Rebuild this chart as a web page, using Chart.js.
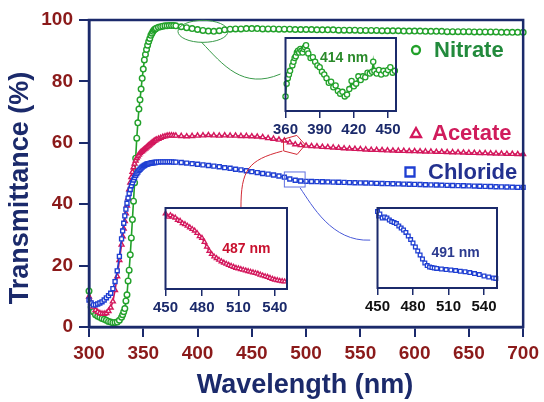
<!DOCTYPE html>
<html>
<head>
<meta charset="utf-8">
<script src="https://cdn.jsdelivr.net/npm/chart.js@4"></script>
<style>
body { margin: 0; background: #fff; }
#wrap { position: relative; width: 544px; height: 402px; }
canvas { position: absolute; }
</style>
</head>
<body>
<div id="wrap">
<canvas id="main" width="544" height="402" style="left:0;top:0"></canvas>
<canvas id="zoomNitrate" width="140" height="112" style="left:270px;top:30px"></canvas>
<canvas id="zoomAcetate" width="150" height="125" style="left:150px;top:200px"></canvas>
<canvas id="zoomChloride" width="150" height="122" style="left:362px;top:200px"></canvas>
</div>
<script>
// main spectra, transmittance (%) vs wavelength (nm)
const wavelengths = [300,302,304,306,308,310,312,314,316,318,320,322,324,326,328,330,
  331,332,333,334,335,336,337,338,339,340,341,342,343,344,345,346,347,348,349,350,351,352,353,354,355,356,357,358,359,360,361,362,
  364,366,368,370,372,374,376,378,380,
  385,390,395,400,405,410,415,420,425,430,435,440,445,450,455,460,465,470,475,480,485,490,495,500,505,510,515,520,525,530,535,540,545,550,
  555,560,565,570,575,580,585,590,595,600,605,610,615,620,625,630,635,640,645,650,655,660,665,670,675,680,685,690,695,700];

const nitrate = [11.7,6.5,5.0,4.0,3.5,3.2,2.8,2.5,2.2,1.8,1.6,1.4,1.5,1.6,2.2,3.2,
  4.0,5.0,6.0,8.5,10.5,15.0,18.5,23.5,29.0,35.0,41.0,47.0,55.0,61.5,66.5,71.0,74.0,77.5,81.0,84.0,87.0,88.8,90.4,91.8,93.0,94.0,95.0,95.7,96.3,96.8,97.1,97.3,
  97.6,97.8,98.0,98.1,98.1,98.2,98.2,98.2,98.1,
  97.8,97.5,97.2,96.9,96.6,96.4,96.3,96.5,96.8,97.0,97.1,97.1,97.2,97.2,97.2,97.1,97.1,97.1,97.0,97.0,97.0,96.9,96.9,96.9,96.9,96.8,96.8,96.8,96.8,96.7,96.7,96.7,96.7,96.6,
  96.6,96.6,96.6,96.5,96.5,96.5,96.5,96.4,96.4,96.4,96.4,96.3,96.3,96.3,96.3,96.2,96.2,96.2,96.2,96.2,96.1,96.1,96.1,96.1,96.1,96.0,96.0,96.0,96.0,96.0];

const acetate = [9.9,8.0,6.6,5.5,4.9,4.5,4.3,4.3,4.5,5.2,6.3,8.3,12.0,16.5,21.8,26.8,
  29.5,32.0,34.5,37.0,39.5,42.0,44.8,47.0,48.8,50.5,52.0,53.2,54.2,55.0,55.6,56.1,56.6,57.0,57.3,57.6,57.9,58.2,58.5,58.8,59.1,59.4,59.7,60.0,60.3,60.6,60.8,61.0,
  61.3,61.6,61.9,62.1,62.3,62.4,62.4,62.3,62.3,
  62.2,62.1,62.2,62.3,62.4,62.5,62.4,62.3,62.4,62.3,62.3,62.2,62.2,62.1,62.0,61.8,61.5,61.3,61.0,60.7,60.1,59.5,59.2,59.05,58.9,58.8,58.65,58.55,58.45,58.35,58.2,58.1,58.0,57.9,
  57.8,57.7,57.65,57.6,57.5,57.45,57.4,57.35,57.3,57.25,57.2,57.15,57.1,57.05,57.0,56.95,56.9,56.85,56.8,56.75,56.7,56.65,56.6,56.55,56.5,56.45,56.4,56.35,56.3,56.3];

const chloride = [8.8,7.8,7.2,7.2,7.5,7.8,8.2,8.8,9.5,10.2,11.0,12.5,14.8,18.3,23.0,28.7,
  31.3,33.8,36.2,38.4,40.3,42.0,43.5,44.8,46.0,47.0,47.9,48.7,49.4,50.0,50.5,51.0,51.4,51.8,52.1,52.4,52.6,52.8,53.0,53.1,53.2,53.3,53.4,53.5,53.5,53.6,53.6,53.7,
  53.7,53.8,53.8,53.8,53.8,53.8,53.8,53.7,53.7,
  53.6,53.4,53.2,53.0,52.8,52.6,52.4,52.2,51.9,51.7,51.4,51.2,50.9,50.6,50.3,50.0,49.8,49.5,49.2,48.8,48.2,47.8,47.55,47.45,47.4,47.35,47.3,47.25,47.2,47.15,47.1,47.05,47.0,46.95,
  46.9,46.85,46.8,46.75,46.7,46.65,46.6,46.55,46.5,46.45,46.4,46.35,46.3,46.25,46.2,46.15,46.1,46.05,46.0,45.95,45.9,45.85,45.8,45.75,45.7,45.65,45.6,45.55,45.5,45.5];

const seriesNames = ['Nitrate', 'Acetate', 'Chloride'];
const xTicks = [300,350,400,450,500,550,600,650,700];
const yTicks = [0,20,40,60,80,100];

// insets
const nitrateZoomX = [360,361,362,363,364,366,367,368,369,370,371,372,373,374,375,376,377,378,379,380,382,384,386,388,390,392,394,396,398,400,
  402,404,406,408,410,412,414,416,418,420,422,424,426,428,430,432,434,436,437,438,440,442,444,446,448,450,452,454,456];
const nitrateZoomY = [95.8,96.5,96.8,97.0,97.2,97.5,97.7,97.9,98.0,98.2,98.3,98.2,98.4,98.3,98.2,98.4,98.5,98.6,98.3,98.15,97.9,97.95,97.7,97.5,97.4,97.15,97.0,96.8,96.55,96.6,
  96.3,96.4,96.1,95.95,96.05,95.8,95.9,96.2,96.65,96.35,96.5,96.9,96.7,96.9,96.85,97.1,97.05,97.15,97.7,97.2,97.05,97.25,97.0,97.2,97.05,97.25,97.4,97.1,97.2];
const nitrateZoomTicks = [360,390,420,450];

const acetateZoomX = [450,452,454,456,458,460,462,464,466,468,470,472,474,476,478,480,482,484,486,488,490,492,494,496,498,500,
  502,504,506,508,510,512,514,516,518,520,522,524,526,528,530,532,534,536,538,540,542,544,546,548];
const acetateZoomY = [62.15,61.95,62.05,61.95,61.9,61.75,61.7,61.55,61.5,61.4,61.3,61.2,61.1,60.95,60.75,60.65,60.4,60.1,59.85,59.65,59.5,59.4,59.3,59.2,59.12,59.05,
  58.98,58.92,58.86,58.8,58.77,58.72,58.68,58.64,58.6,58.56,58.52,58.48,58.44,58.38,58.33,58.28,58.24,58.18,58.12,58.07,58.04,58.0,57.98,57.96];

const chlorideZoomX = [450,451,452,454,456,458,460,462,464,466,468,470,472,474,476,478,480,482,484,486,488,490,492,494,496,498,500,
  504,508,512,516,520,524,528,532,536,540,544,548,550];
const chlorideZoomY = [50.32,50.1,50.2,50.0,50.05,50.0,49.9,49.82,49.78,49.72,49.6,49.5,49.4,49.28,49.1,48.92,48.75,48.55,48.35,48.15,47.95,47.75,47.62,47.55,47.52,47.5,47.48,
  47.45,47.42,47.4,47.37,47.34,47.31,47.27,47.22,47.17,47.1,47.05,47.0,46.98];
const zoomTicks = [450,480,510,540];

const navy = '#1b2a6b';
const tickRed = '#8b1a1a';
const green = '#22a12a';
const crimson = '#d3175c';
const blue = '#1f3fd2';
const fontFam = 'Arial, "Liberation Sans", sans-serif';
Chart.defaults.font.family = fontFam;

const pts = (xs, ys) => xs.map((x, i) => ({x: x, y: ys[i]}));

function series(label, ys, color, style) {
  return {
    label: label,
    data: pts(wavelengths, ys),
    borderColor: color,
    borderWidth: 1.6,
    pointStyle: style,
    pointRadius: 2.8,
    pointBorderWidth: 1.4,
    pointBorderColor: color,
    pointBackgroundColor: '#fff',
    clip: false
  };
}

const mainDecor = {
  id: 'mainDecor',
  afterDraw(chart) {
    const ctx = chart.ctx;
    const a = chart.chartArea;
    const xs = chart.scales.x, ys = chart.scales.y;
    const P = (nm, t) => [xs.getPixelForValue(nm), ys.getPixelForValue(t)];
    ctx.save();
    // frame
    ctx.strokeStyle = navy;
    ctx.lineWidth = 2.5;
    ctx.strokeRect(a.left, a.top, a.right - a.left, a.bottom - a.top);

    // callout: nitrate ellipse
    ctx.lineWidth = 1;
    ctx.strokeStyle = '#3a9a4a';
    let c = P(405, 96.3);
    ctx.beginPath();
    ctx.ellipse(c[0], c[1], 25, 11, 0, 0, Math.PI * 2);
    ctx.stroke();
    let s = P(403.6, 92.8), c1 = P(423.6, 85.3), c2 = P(441.8, 77.2), e = P(476.4, 82.4);
    ctx.beginPath();
    ctx.moveTo(s[0], s[1]);
    ctx.bezierCurveTo(c1[0], c1[1], c2[0], c2[1], e[0], e[1]);
    ctx.stroke();

    // callout: acetate pentagon
    ctx.strokeStyle = '#d22a35';
    c = P(488.2, 59.3);
    ctx.beginPath();
    for (let k = 0; k < 5; k++) {
      const ang = -Math.PI / 2 + k * 2 * Math.PI / 5 + 0.3;
      const px = c[0] + 12 * Math.cos(ang), py = c[1] + 10 * Math.sin(ang);
      if (k === 0) ctx.moveTo(px, py); else ctx.lineTo(px, py);
    }
    ctx.closePath();
    ctx.stroke();
    s = P(478.2, 57.3); c1 = P(446.4, 54.4); c2 = P(440, 51.1); e = P(440, 38.8);
    ctx.beginPath();
    ctx.moveTo(s[0], s[1]);
    ctx.bezierCurveTo(c1[0], c1[1], c2[0], c2[1], e[0], e[1]);
    ctx.stroke();

    // callout: chloride rectangle
    ctx.strokeStyle = '#6070e0';
    const r0 = P(480, 50.5), r1 = P(499.1, 45.6);
    ctx.strokeRect(r0[0], r0[1], r1[0] - r0[0], r1[1] - r0[1]);
    ctx.strokeStyle = '#4a5ad8';
    s = P(494.5, 45.3); c1 = P(505.5, 39.7); c2 = P(523.6, 27.7); e = P(559.1, 28.3);
    ctx.beginPath();
    ctx.moveTo(s[0], s[1]);
    ctx.bezierCurveTo(c1[0], c1[1], c2[0], c2[1], e[0], e[1]);
    ctx.stroke();

    // axis titles
    ctx.fillStyle = navy;
    ctx.font = 'bold 27px ' + fontFam;
    ctx.textAlign = 'center';
    ctx.textBaseline = 'middle';
    ctx.fillText('Wavelength (nm)', 305, 386);
    ctx.save();
    ctx.translate(21, 188);
    ctx.rotate(-Math.PI / 2);
    ctx.fillText('Transmittance (%)', 0, 0);
    ctx.restore();

    // legend
    const items = [
      {style: 'circle', color: green, text: '#228a3c', mx: 416, tx: 434, y: 50},
      {style: 'triangle', color: crimson, text: '#d01c5c', mx: 416, tx: 432, y: 133},
      {style: 'rect', color: blue, text: '#23318f', mx: 410, tx: 428, y: 172}
    ];
    ctx.font = 'bold 22px ' + fontFam;
    ctx.textAlign = 'left';
    items.forEach((it, i) => {
      ctx.strokeStyle = it.color;
      ctx.lineWidth = 2.3;
      ctx.beginPath();
      if (it.style === 'circle') {
        ctx.arc(it.mx, it.y, 4, 0, Math.PI * 2);
      } else if (it.style === 'triangle') {
        ctx.moveTo(it.mx, it.y - 5);
        ctx.lineTo(it.mx + 5, it.y + 4);
        ctx.lineTo(it.mx - 5, it.y + 4);
        ctx.closePath();
      } else {
        ctx.rect(it.mx - 4.5, it.y - 4.5, 9, 9);
      }
      ctx.stroke();
      ctx.fillStyle = it.text;
      ctx.fillText(seriesNames[i], it.tx, it.y + 1);
    });
    ctx.restore();
  }
};

new Chart(document.getElementById('main'), {
  type: 'line',
  data: {
    datasets: [
      series(seriesNames[2], chloride, blue, 'rect'),
      series(seriesNames[1], acetate, crimson, 'triangle'),
      series(seriesNames[0], nitrate, green, 'circle')
    ]
  },
  options: {
    responsive: false,
    animation: false,
    events: [],
    layout: { padding: { top: 20, right: 15, left: 0, bottom: 0 } },
    plugins: { legend: { display: false }, tooltip: { enabled: false } },
    scales: {
      x: {
        type: 'linear', min: 300, max: 700,
        afterBuildTicks: s => { s.ticks = xTicks.map(v => ({value: v})); },
        afterFit: s => { s.height = 75; },
        ticks: { color: tickRed, font: { size: 19, weight: 'bold' }, padding: 5 },
        grid: { drawOnChartArea: false, tickLength: 10, color: navy, lineWidth: 2 },
        border: { color: navy, width: 2.5 }
      },
      y: {
        min: 0, max: 100,
        afterBuildTicks: s => { s.ticks = yTicks.map(v => ({value: v})); },
        afterFit: s => { s.width = 89; },
        ticks: { color: tickRed, font: { size: 19, weight: 'bold' }, padding: 6 },
        grid: { drawOnChartArea: false, tickLength: 10, color: navy, lineWidth: 2 },
        border: { color: navy, width: 2.5 }
      }
    }
  },
  plugins: [mainDecor]
});

const insetDecor = {
  id: 'insetDecor',
  beforeDatasetsDraw(chart) {
    const a = chart.chartArea, ctx = chart.ctx;
    ctx.save();
    ctx.fillStyle = '#fff';
    ctx.fillRect(a.left, a.top, a.right - a.left, a.bottom - a.top);
    ctx.restore();
  },
  afterDraw(chart, args, opts) {
    const a = chart.chartArea, ctx = chart.ctx;
    ctx.save();
    ctx.strokeStyle = navy;
    ctx.lineWidth = 2;
    ctx.strokeRect(a.left, a.top, a.right - a.left, a.bottom - a.top);
    ctx.fillStyle = opts.color;
    ctx.font = 'bold 14px ' + fontFam;
    ctx.textAlign = 'center';
    ctx.textBaseline = 'middle';
    ctx.fillText(opts.text, chart.scales.x.getPixelForValue(opts.at[0]), chart.scales.y.getPixelForValue(opts.at[1]));
    ctx.restore();
  }
};

function makeInset(id, xs, ys, cfg) {
  return new Chart(document.getElementById(id), {
    type: 'line',
    data: {
      datasets: [{
        data: pts(xs, ys),
        borderColor: cfg.color,
        borderWidth: 1.6,
        pointStyle: cfg.style,
        pointRadius: 2.6,
        pointBorderWidth: 1.3,
        pointBorderColor: cfg.color,
        pointBackgroundColor: '#fff',
        clip: false
      }]
    },
    options: {
      responsive: false,
      animation: false,
      events: [],
      layout: { padding: cfg.padding },
      plugins: {
        legend: { display: false }, tooltip: { enabled: false },
        insetDecor: { text: cfg.text, color: cfg.textColor, at: cfg.textAt }
      },
      scales: {
        x: {
          type: 'linear', min: cfg.xMin, max: cfg.xMax,
          afterBuildTicks: s => { s.ticks = cfg.ticks.map(v => ({value: v})); },
          afterFit: s => { s.height = cfg.axisHeight; },
          ticks: { color: cfg.tickColor, font: { size: 15, weight: 'bold' }, padding: 3 },
          grid: { drawOnChartArea: false, tickLength: 7, color: navy, lineWidth: 1.5 },
          border: { display: false }
        },
        y: { display: false, min: cfg.yMin, max: cfg.yMax }
      }
    },
    plugins: [insetDecor]
  });
}

makeInset('zoomNitrate', nitrateZoomX, nitrateZoomY, {
  color: green, style: 'circle', xMin: 360, xMax: 457, yMin: 95, yMax: 99,
  ticks: nitrateZoomTicks, tickColor: navy, axisHeight: 31,
  padding: { left: 13, right: 14, top: 8, bottom: 0 },
  text: '414 nm', textColor: '#2a8a2a', textAt: [411.4, 97.9]
});
makeInset('zoomAcetate', acetateZoomX, acetateZoomY, {
  color: crimson, style: 'triangle', xMin: 450, xMax: 550, yMin: 57.5, yMax: 62.5,
  ticks: zoomTicks, tickColor: navy, axisHeight: 36,
  padding: { left: 14, right: 13, top: 8, bottom: 0 },
  text: '487 nm', textColor: '#c8102e', textAt: [516.5, 59.97]
});
makeInset('zoomChloride', chlorideZoomX, chlorideZoomY, {
  color: blue, style: 'rect', xMin: 450, xMax: 551, yMin: 46.5, yMax: 50.5,
  ticks: zoomTicks, tickColor: '#111', axisHeight: 34,
  padding: { left: 13, right: 15, top: 8, bottom: 0 },
  text: '491 nm', textColor: '#2b3a8f', textAt: [516, 48.25]
});
</script>
</body>
</html>
